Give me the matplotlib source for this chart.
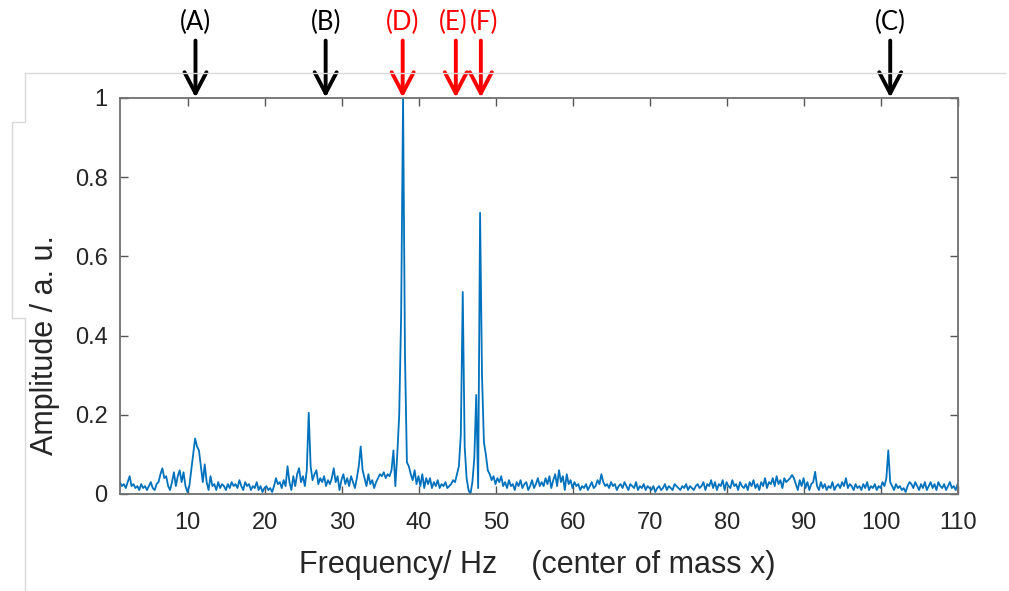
# -*- coding: utf-8 -*-
"""
Amplitude spectrum of the centre of mass x motion, with marked peaks
"""

import matplotlib
matplotlib.use("Agg")
import matplotlib.pyplot as plt
import numpy as np

matplotlib.rcParams['font.family'] = 'sans-serif'
matplotlib.rcParams['font.sans-serif'] = ['Liberation Sans', 'DejaVu Sans']

MATLABblue = "#0072BD"
axisGrey = "#262626"

# frequency grid of the spectrum (Hz), 0.25 Hz step
freq = np.round(1.2 + 0.25*np.arange(436), 2)

# amplitude, one row per 5 Hz
amp = [
    # 1.2 - 5.95
    0.03, 0.02, 0.025, 0.015, 0.03, 0.045, 0.02, 0.025, 0.015, 0.02,
    0.01, 0.025, 0.015, 0.02, 0.01, 0.02, 0.03, 0.015, 0.01, 0.025,
    # 6.2 - 10.95
    0.03, 0.05, 0.065, 0.04, 0.045, 0.02, 0.01, 0.03, 0.055, 0.02,
    0.045, 0.06, 0.03, 0.055, 0.02, 0.005, 0.02, 0.06, 0.10, 0.14,
    # 11.2 - 15.95
    0.12, 0.11, 0.07, 0.03, 0.075, 0.03, 0.01, 0.045, 0.02, 0.025,
    0.01, 0.03, 0.015, 0.025, 0.02, 0.01, 0.025, 0.015, 0.03, 0.02,
    # 16.2 - 20.95
    0.025, 0.015, 0.035, 0.02, 0.01, 0.03, 0.02, 0.025, 0.01, 0.02,
    0.015, 0.03, 0.01, 0.02, 0.005, 0.015, 0.02, 0.01, 0.015, 0.005,
    # 21.2 - 25.95
    0.02, 0.04, 0.025, 0.03, 0.015, 0.035, 0.02, 0.07, 0.03, 0.01,
    0.045, 0.02, 0.05, 0.065, 0.03, 0.045, 0.02, 0.06, 0.205, 0.07,
    # 26.2 - 30.95
    0.035, 0.05, 0.06, 0.025, 0.04, 0.03, 0.045, 0.02, 0.035, 0.025,
    0.04, 0.065, 0.03, 0.045, 0.01, 0.035, 0.05, 0.025, 0.04, 0.02,
    # 31.2 - 35.95
    0.045, 0.03, 0.015, 0.04, 0.07, 0.12, 0.06, 0.04, 0.02, 0.05,
    0.025, 0.035, 0.015, 0.03, 0.04, 0.05, 0.045, 0.055, 0.04, 0.05,
    # 36.2 - 40.95
    0.045, 0.06, 0.11, 0.02, 0.10, 0.20, 0.45, 1.0, 0.35, 0.08,
    0.07, 0.05, 0.035, 0.06, 0.025, 0.045, 0.02, 0.05, 0.015, 0.04,
    # 41.2 - 45.95
    0.025, 0.04, 0.015, 0.03, 0.02, 0.035, 0.015, 0.025, 0.02, 0.03,
    0.015, 0.02, 0.025, 0.035, 0.03, 0.05, 0.07, 0.15, 0.51, 0.12,
    # 46.2 - 50.95
    0.04, 0.01, 0.0, 0.03, 0.09, 0.25, 0.015, 0.71, 0.30, 0.13,
    0.10, 0.06, 0.05, 0.035, 0.045, 0.025, 0.04, 0.03, 0.045, 0.02,
    # 51.2 - 55.95
    0.03, 0.015, 0.035, 0.02, 0.025, 0.01, 0.03, 0.02, 0.035, 0.015,
    0.025, 0.03, 0.01, 0.02, 0.035, 0.015, 0.025, 0.04, 0.02, 0.03,
    # 56.2 - 60.95
    0.02, 0.04, 0.025, 0.045, 0.015, 0.035, 0.05, 0.02, 0.06, 0.03,
    0.045, 0.01, 0.05, 0.025, 0.035, 0.015, 0.03, 0.02, 0.025, 0.01,
    # 61.2 - 65.95
    0.02, 0.015, 0.025, 0.01, 0.02, 0.03, 0.015, 0.02, 0.035, 0.025,
    0.05, 0.03, 0.02, 0.025, 0.015, 0.03, 0.02, 0.025, 0.01, 0.02,
    # 66.2 - 70.95
    0.025, 0.015, 0.03, 0.02, 0.01, 0.025, 0.02, 0.015, 0.03, 0.01,
    0.02, 0.015, 0.025, 0.01, 0.02, 0.015, 0.01, 0.02, 0.005, 0.015,
    # 71.2 - 75.95
    0.02, 0.01, 0.015, 0.025, 0.01, 0.02, 0.015, 0.01, 0.025, 0.02,
    0.015, 0.01, 0.02, 0.015, 0.025, 0.01, 0.02, 0.015, 0.01, 0.02,
    # 76.2 - 80.95
    0.025, 0.015, 0.02, 0.03, 0.01, 0.025, 0.02, 0.035, 0.015, 0.03,
    0.01, 0.025, 0.02, 0.035, 0.01, 0.03, 0.02, 0.015, 0.035, 0.02,
    # 81.2 - 85.95
    0.025, 0.01, 0.03, 0.02, 0.015, 0.025, 0.01, 0.03, 0.02, 0.035,
    0.015, 0.025, 0.01, 0.03, 0.02, 0.04, 0.015, 0.03, 0.025, 0.04,
    # 86.2 - 90.95
    0.02, 0.045, 0.025, 0.035, 0.015, 0.04, 0.03, 0.035, 0.04, 0.048,
    0.04, 0.025, 0.01, 0.035, 0.02, 0.04, 0.015, 0.03, 0.01, 0.025,
    # 91.2 - 95.95
    0.03, 0.056, 0.02, 0.01, 0.03, 0.015, 0.025, 0.01, 0.02, 0.015,
    0.03, 0.01, 0.02, 0.025, 0.015, 0.03, 0.02, 0.04, 0.015, 0.025,
    # 96.2 - 100.95
    0.02, 0.01, 0.025, 0.015, 0.02, 0.01, 0.025, 0.015, 0.03, 0.01,
    0.02, 0.015, 0.025, 0.01, 0.02, 0.015, 0.03, 0.02, 0.04, 0.11,
    # 101.2 - 105.95
    0.03, 0.02, 0.01, 0.025, 0.015, 0.02, 0.01, 0.015, 0.005, 0.02,
    0.03, 0.025, 0.015, 0.03, 0.02, 0.01, 0.025, 0.015, 0.03, 0.01,
    # 106.2 - 109.95
    0.02, 0.03, 0.015, 0.025, 0.01, 0.03, 0.02, 0.015, 0.025, 0.01,
    0.02, 0.03, 0.015, 0.02, 0.01, 0.025,
]

# marked peaks above the axes
peakFreqs = [11.0, 27.9, 37.9, 44.8, 48.05, 101.2]
labelFreqs = [11.0, 27.9, 37.9, 44.4, 48.5, 101.2]
peakLabels = ["(A)", "(B)", "(D)", "(E)", "(F)", "(C)"]
peakColours = ["black", "black", "red", "red", "red", "black"]

xticks = [10, 20, 30, 40, 50, 60, 70, 80, 90, 100, 110]
yticks = [0, 0.2, 0.4, 0.6, 0.8, 1]
yticklabels = ["0", "0.2", "0.4", "0.6", "0.8", "1"]

W, H = 1009, 591
fig = plt.figure(figsize=(W/100, H/100), dpi=100)

# light frame left over from the slide around the plot
frame = dict(color="#d9d9d9", lw=1.0, transform=fig.transFigure)
fig.add_artist(plt.Line2D(np.array([25, 1005])/W, 1 - np.array([73, 73])/H, **frame))
fig.add_artist(plt.Line2D(np.array([25, 25, 12, 12, 25, 25])/W,
                          1 - np.array([73, 122, 122, 318, 318, 591])/H, **frame))

ax = fig.add_axes([120/W, 1 - 494/H, 838/W, 396/H])
ax.plot(freq, amp, color=MATLABblue, lw=1.3)

ax.set_xlim(1.2, 110)
ax.set_ylim(0, 1)
ax.set_xticks(xticks)
ax.set_yticks(yticks)
ax.set_yticklabels(yticklabels)

for s in ax.spines.values():
    s.set_color("#707070")
    s.set_linewidth(1.3)
ax.tick_params(direction="in", length=5.5, width=1.0, color="#555555",
               top=True, right=True, labelsize=17, labelcolor=axisGrey)
ax.tick_params(axis="x", pad=13)
ax.tick_params(axis="y", pad=9)

# arrows (shaft + open V head) and labels for the peaks
tipY, tailY = 1.012, 1.145
for f, lf, lab, c in zip(peakFreqs, labelFreqs, peakLabels, peakColours):
    line = dict(arrowstyle="-", color=c, lw=2.8, shrinkA=0, shrinkB=0,
                capstyle="round")
    ax.annotate("", xy=(f, tipY), xytext=(f, tailY), arrowprops=line,
                annotation_clip=False)
    for side in (-1, 1):
        ax.annotate("", xy=(f, tipY), xytext=(11*side, 21),
                    textcoords="offset pixels", arrowprops=line,
                    annotation_clip=False)
    ax.text(lf, 1.19, lab, color=c, fontsize=18.5, ha="center", va="center",
            family="Lato", clip_on=False)

fig.text(537/W, 1 - 565/H, "Frequency/ Hz    (center of mass x)",
         fontsize=22, color=axisGrey, ha="center", va="center")
fig.text(45/W, 1 - 345/H, "Amplitude / a. u.", rotation=90,
         fontsize=22, color=axisGrey, ha="center", va="center")

fig.savefig("out.png", dpi=100)
